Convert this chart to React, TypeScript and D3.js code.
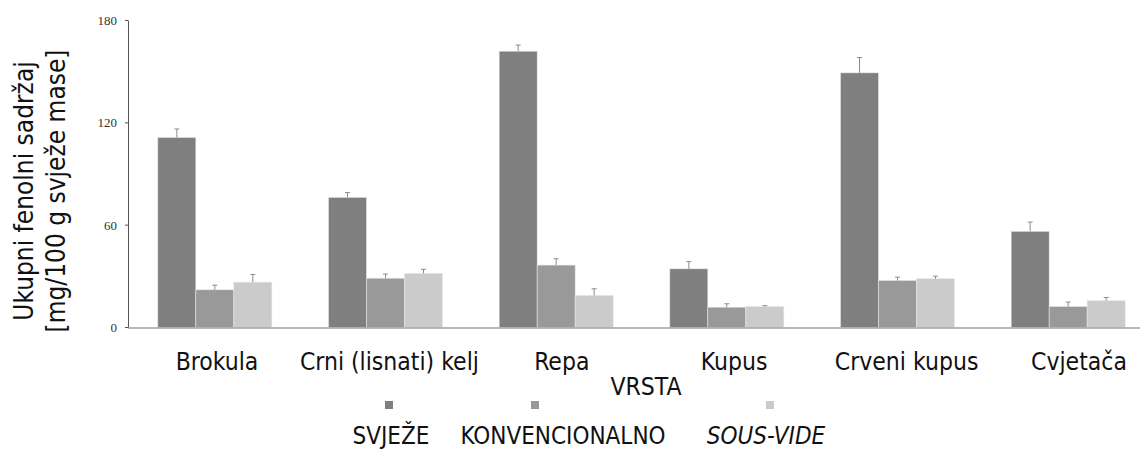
import React from "react";
import * as d3 from "d3";

const categories = ["Brokula", "Crni (lisnati) kelj", "Repa", "Kupus", "Crveni kupus", "Cvjetača"];
const seriesNames = ["SVJEŽE", "KONVENCIONALNO", "SOUS-VIDE"];
const svjeze = [111.4, 76.3, 162.0, 34.4, 149.3, 56.4];
const svjezeErr = [5.0, 2.8, 3.6, 4.2, 9.0, 5.4];
const konvencionalno = [22.1, 28.9, 36.6, 11.9, 27.6, 12.3];
const konvencionalnoErr = [2.7, 2.4, 3.7, 2.0, 1.9, 2.6];
const sousVide = [26.6, 31.7, 18.8, 12.3, 28.6, 15.7];
const sousVideErr = [4.5, 2.4, 3.9, 0.5, 1.5, 1.9];
const yTicks = [0, 60, 120, 180];
const colors = ["#7f7f7f", "#999999", "#cbcbcb"];

const values = [svjeze, konvencionalno, sousVide];
const errors = [svjezeErr, konvencionalnoErr, sousVideErr];

const W = 1140;
const H = 450;
const SANS = "'DejaVu Sans Condensed', 'DejaVu Sans', sans-serif";

export default function App() {
  const y = d3.scaleLinear().domain([0, 180]).range([327.5, 20.5]);
  const x0 = d3.scaleBand<string>().domain(categories).range([129.5, 1153.5]).paddingInner(0.332).paddingOuter(0.166);
  const x1 = d3.scaleBand<string>().domain(seriesNames).range([0, x0.bandwidth()]);
  const labelX = d3.scalePoint<string>().domain(categories).range([217, 1079]);
  const legendSquareX = d3.scaleOrdinal<string, number>().domain(seriesNames).range([389, 535, 770]);
  const legendTextX = d3.scaleOrdinal<string, number>().domain(seriesNames).range([391, 563, 766]);
  const axisX = 128;

  return (
    <svg width={W} height={H} style={{ position: "absolute", left: 0, top: 0, background: "#fff" }}>
      {/* bars */}
      {categories.map((c, i) => (
        <g key={c} transform={`translate(${x0(c)},0)`}>
          {seriesNames.map((s, k) => {
            const v = values[k][i];
            const e = errors[k][i];
            const bx = x1(s)!;
            const bw = x1.bandwidth();
            const cx = bx + bw / 2;
            return (
              <g key={s}>
                <rect x={bx} y={y(v)} width={bw} height={y(0) - y(v)} fill={colors[k]} stroke="#e6e6e6" strokeWidth={0.6} />
                <line x1={cx} x2={cx} y1={y(v)} y2={y(v + e)} stroke="#8c8c8c" strokeWidth={1} />
                <line x1={cx - 2.5} x2={cx + 2.5} y1={y(v + e)} y2={y(v + e)} stroke="#8c8c8c" strokeWidth={1} />
              </g>
            );
          })}
        </g>
      ))}
      {/* x axis line */}
      <line x1={axisX} x2={W} y1={y(0) + 0.5} y2={y(0) + 0.5} stroke="#a0a0a0" strokeWidth={1.6} />
      {/* y axis */}
      <line x1={axisX + 0.5} x2={axisX + 0.5} y1={y(180)} y2={y(0)} stroke="#555" strokeWidth={1} />
      {yTicks.map((t) => (
        <g key={t}>
          <line x1={axisX - 3} x2={axisX} y1={y(t)} y2={y(t)} stroke="#555" strokeWidth={1} />
          <text x={117} y={y(t)} dy="0.35em" textAnchor="end" fontFamily="'Liberation Serif', 'DejaVu Serif', serif" fontSize={13} fill="#333">
            {t}
          </text>
        </g>
      ))}
      {/* y title */}
      <g transform="translate(24,191) rotate(-90)">
        <text x={0} y={0} dy="0.35em" textAnchor="middle" fontFamily={SANS} fontSize={26} fill="#111">
          Ukupni fenolni sadržaj
        </text>
        <text x={0} y={32} dy="0.35em" textAnchor="middle" fontFamily={SANS} fontSize={26} fill="#111">
          [mg/100 g svježe mase]
        </text>
      </g>
      {/* category labels */}
      {categories.map((c) => (
        <text key={c} x={labelX(c)} y={370} textAnchor="middle" fontFamily={SANS} fontSize={24.5} fill="#111">
          {c}
        </text>
      ))}
      {/* x title */}
      <text x={646} y={395} textAnchor="middle" fontFamily={SANS} fontSize={24.5} fill="#111">
        VRSTA
      </text>
      {/* legend */}
      {seriesNames.map((s, k) => (
        <g key={s}>
          <rect x={legendSquareX(s) - 4} y={401} width={8} height={8} fill={colors[k]} />
          <text
            x={legendTextX(s)}
            y={444}
            textAnchor="middle"
            fontFamily={SANS}
            fontSize={24}
            fontStyle={k === 2 ? "italic" : "normal"}
            fill="#111"
          >
            {s}
          </text>
        </g>
      ))}
    </svg>
  );
}
